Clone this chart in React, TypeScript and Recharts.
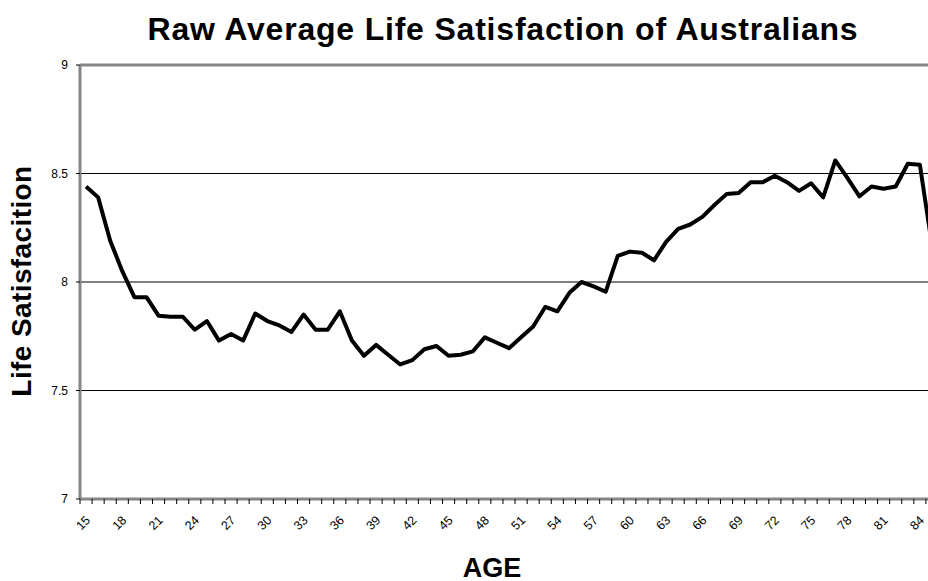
import React from "react";
import { LineChart, Line, XAxis, YAxis, CartesianGrid, ReferenceLine } from "recharts";

// ages 15..85, one point per year
const ages = [
  15, 16, 17, 18, 19, 20, 21, 22, 23, 24, 25, 26, 27, 28, 29, 30, 31, 32, 33, 34,
  35, 36, 37, 38, 39, 40, 41, 42, 43, 44, 45, 46, 47, 48, 49, 50, 51, 52, 53, 54,
  55, 56, 57, 58, 59, 60, 61, 62, 63, 64, 65, 66, 67, 68, 69, 70, 71, 72, 73, 74,
  75, 76, 77, 78, 79, 80, 81, 82, 83, 84, 85,
];

const satisfaction = [
  8.44, 8.39, 8.19, 8.05, 7.93, 7.93, 7.845, 7.84, 7.84, 7.78, 7.82, 7.73, 7.76, 7.73, 7.855, 7.82, 7.8, 7.77, 7.85, 7.78,
  7.78, 7.865, 7.73, 7.66, 7.71, 7.665, 7.62, 7.64, 7.69, 7.705, 7.66, 7.665, 7.68, 7.745, 7.72, 7.695, 7.745, 7.795, 7.885, 7.865,
  7.95, 8.0, 7.98, 7.955, 8.12, 8.14, 8.135, 8.1, 8.185, 8.245, 8.265, 8.3, 8.355, 8.405, 8.41, 8.46, 8.46, 8.49, 8.46, 8.42,
  8.455, 8.39, 8.56, 8.48, 8.395, 8.44, 8.43, 8.44, 8.545, 8.54, 8.17,
];

const ageLabels = [15, 18, 21, 24, 27, 30, 33, 36, 39, 42, 45, 48, 51, 54, 57, 60, 63, 66, 69, 72, 75, 78, 81, 84];
const yTicks = [7, 7.5, 8, 8.5, 9];

const data = ages.map((age, i) => ({ age, value: satisfaction[i] }));

// tick marks sit between categories, labels sit on them (excel style)
const boundaries = [...ages.map((a) => a - 0.5), ages[ages.length - 1] + 0.5];
const xTicks = [...boundaries, ...ageLabels].sort((a, b) => a - b);

const FONT = "'Liberation Sans', Arial, sans-serif";
const AXIS_GRAY = "#868686";

function AgeTick(props: any) {
  const { x, y, payload } = props;
  const v = payload.value;
  if (!Number.isInteger(v)) {
    return <line x1={x} x2={x} y1={y} y2={y + 5} stroke="#000" strokeWidth={1} />;
  }
  const tx = x + 5;
  const ty = y + 22;
  return (
    <text
      x={tx}
      y={ty}
      transform={`rotate(-45 ${tx} ${ty})`}
      textAnchor="end"
      fontSize={12.5}
      fontFamily={FONT}
      fill="#000"
    >
      {v}
    </text>
  );
}

export default function App() {
  return (
    <div
      style={{
        position: "fixed", left: 0, top: 0, width: 928, height: 581,
        overflow: "hidden", background: "#fff", fontFamily: FONT,
      }}
    >
      <div
        style={{
          position: "absolute", left: 503, top: 29, transform: "translate(-50%, -50%)",
          fontSize: 32, fontWeight: "bold", letterSpacing: 0.8, whiteSpace: "nowrap", color: "#000",
        }}
      >
        Raw Average Life Satisfaction of Australians
      </div>
      <div
        style={{
          position: "absolute", left: 22, top: 281, transform: "translate(-50%, -50%) rotate(-90deg)",
          fontSize: 28, fontWeight: "bold", letterSpacing: 0.4, whiteSpace: "nowrap", color: "#000",
        }}
      >
        Life Satisfacition
      </div>
      <div
        style={{
          position: "absolute", left: 492, top: 568, transform: "translate(-50%, -50%)",
          fontSize: 27, fontWeight: "bold", whiteSpace: "nowrap", color: "#000",
        }}
      >
        AGE
      </div>

      <div style={{ position: "absolute", left: 0, top: 0 }}>
        <LineChart width={1000} height={581} data={data} margin={{ top: 65, right: 62, bottom: 42, left: 40 }}>
          <CartesianGrid horizontal vertical={false} stroke="#000" strokeWidth={1} />
          <XAxis
            dataKey="age"
            type="number"
            domain={[14.5, 85.5]}
            ticks={xTicks}
            interval={0}
            tick={<AgeTick />}
            tickLine={false}
            tickSize={0}
            tickMargin={0}
            height={40}
            axisLine={{ stroke: AXIS_GRAY, strokeWidth: 3 }}
          />
          <YAxis
            type="number"
            domain={[7, 9]}
            ticks={yTicks}
            interval={0}
            width={40}
            tickSize={4}
            tickMargin={8}
            tickLine={{ stroke: "#000" }}
            axisLine={{ stroke: AXIS_GRAY, strokeWidth: 3 }}
            tick={{ fontSize: 12, fill: "#000", fontFamily: FONT }}
          />
          <ReferenceLine y={9} stroke={AXIS_GRAY} strokeWidth={3} />
          <Line
            type="linear"
            dataKey="value"
            stroke="#000"
            strokeWidth={4}
            strokeLinejoin="round"
            dot={false}
            isAnimationActive={false}
          />
        </LineChart>
      </div>
    </div>
  );
}
